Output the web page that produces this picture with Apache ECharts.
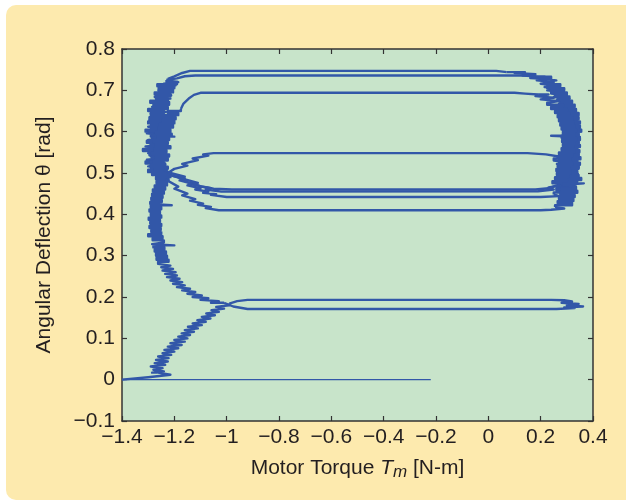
<!DOCTYPE html>
<html>
<head>
<meta charset="utf-8">
<script src="https://cdn.jsdelivr.net/npm/echarts@6/dist/echarts.min.js"></script>
<style>
html,body{margin:0;padding:0;background:#ffffff;width:626px;height:502px;overflow:hidden;}
#panel{position:absolute;left:6px;top:5px;width:640px;height:495px;background:#fdeaae;border-radius:10px;}
#chart{position:absolute;left:0;top:0;width:626px;height:502px;}
</style>
</head>
<body>
<div id="panel"></div>
<div id="chart"></div>
<script>
const xTicks = [-1.4,-1.2,-1.0,-0.8,-0.6,-0.4,-0.2,0,0.2,0.4];
const yTicks = [-0.1,0,0.1,0.2,0.3,0.4,0.5,0.6,0.7,0.8];
const xTitle = 'Motor Torque ';
const yTitle = 'Angular Deflection θ [rad]';

const baseline = [[-0.22,0.0],[-1.40,0.0]];
const startTail = [[-1.40,0.0],[-1.30,0.006],[-1.215,0.012],[-1.262,0.017]];
const lowerRise = [[-1.285,0.020],[-1.240,0.024],[-1.280,0.028],[-1.245,0.032],[-1.290,0.036],[-1.235,0.040],[-1.275,0.044],[-1.225,0.048],[-1.270,0.052],[-1.222,0.056],[-1.262,0.060],[-1.212,0.064],[-1.245,0.068],[-1.200,0.072],[-1.238,0.076],[-1.185,0.080],[-1.225,0.084],[-1.172,0.088],[-1.215,0.092],[-1.160,0.096],[-1.200,0.100],[-1.150,0.104],[-1.185,0.108],[-1.140,0.112],[-1.172,0.116],[-1.125,0.120],[-1.160,0.124],[-1.110,0.128],[-1.148,0.132],[-1.095,0.136],[-1.130,0.140],[-1.080,0.144],[-1.112,0.148],[-1.062,0.152],[-1.095,0.156],[-1.045,0.160],[-1.078,0.164],[-1.030,0.168],[-1.058,0.172],[-1.010,0.176],[-1.040,0.180],[-0.990,0.184]];
const lowLoop = [[-0.960,0.190],[-0.920,0.193],[0.240,0.193],[0.290,0.192],[0.320,0.189],[0.280,0.186],[0.345,0.183],[0.300,0.180],[0.362,0.177],[0.290,0.175],[0.330,0.173],[0.260,0.171],[-0.920,0.171],[-0.975,0.177],[-1.010,0.186]];
const upperRise = [[-1.060,0.190],[-1.030,0.193],[-1.100,0.197],[-1.070,0.200],[-1.130,0.204],[-1.095,0.208],[-1.150,0.212],[-1.120,0.216],[-1.170,0.220],[-1.140,0.224],[-1.190,0.228],[-1.160,0.232],[-1.205,0.236],[-1.170,0.240],[-1.215,0.244],[-1.180,0.248],[-1.228,0.252],[-1.190,0.256],[-1.235,0.260],[-1.195,0.264],[-1.245,0.268],[-1.205,0.272],[-1.250,0.276],[-1.215,0.280],[-1.262,0.285],[-1.222,0.290],[-1.268,0.295],[-1.228,0.300],[-1.270,0.305],[-1.232,0.310],[-1.275,0.315],[-1.238,0.320],[-1.280,0.325],[-1.200,0.328],[-1.285,0.332],[-1.240,0.337],[-1.283,0.342],[-1.245,0.347],[-1.300,0.352],[-1.250,0.357],[-1.288,0.362],[-1.252,0.367],[-1.295,0.372],[-1.250,0.377],[-1.292,0.382],[-1.255,0.387],[-1.298,0.392],[-1.250,0.397],[-1.290,0.402],[-1.255,0.407],[-1.295,0.412],[-1.250,0.417],[-1.290,0.422],[-1.210,0.425],[-1.292,0.430],[-1.248,0.435],[-1.288,0.440],[-1.245,0.445],[-1.285,0.450],[-1.240,0.455],[-1.282,0.460],[-1.235,0.465],[-1.275,0.470],[-1.228,0.475],[-1.268,0.480],[-1.222,0.485],[-1.255,0.490],[-1.215,0.495]];
const midLine = [[-1.190,0.490],[-1.170,0.486],[-1.150,0.478],[-1.120,0.474],[-1.100,0.467],[-1.075,0.465],[-1.050,0.462],[-0.980,0.460],[0.180,0.460],[0.230,0.463],[0.260,0.470]];
const midBand = [[0.300,0.474],[0.262,0.478],[0.310,0.482],[0.270,0.486],[0.320,0.490],[0.275,0.494],[0.315,0.498],[0.270,0.502],[0.325,0.506],[0.272,0.510],[0.318,0.514],[0.268,0.518],[0.310,0.522],[0.262,0.526],[0.300,0.530],[0.250,0.535],[0.270,0.540]];
const midTop = [[0.220,0.545],[0.150,0.548],[-1.050,0.548],[-1.090,0.545],[-1.070,0.542],[-1.130,0.535],[-1.110,0.531],[-1.170,0.522],[-1.150,0.518],[-1.200,0.510],[-1.225,0.500]];
const leftBand2 = [[-1.270,0.504],[-1.230,0.508],[-1.285,0.512],[-1.240,0.516],[-1.300,0.520],[-1.235,0.524],[-1.290,0.528],[-1.245,0.532],[-1.305,0.536],[-1.250,0.540],[-1.290,0.544],[-1.240,0.548],[-1.300,0.552],[-1.248,0.556],[-1.292,0.560],[-1.240,0.564],[-1.310,0.568],[-1.245,0.572],[-1.295,0.576],[-1.250,0.580],[-1.300,0.584],[-1.235,0.588],[-1.290,0.592],[-1.245,0.596],[-1.305,0.600],[-1.250,0.604],[-1.292,0.608],[-1.242,0.612],[-1.300,0.616],[-1.238,0.620],[-1.288,0.624],[-1.240,0.628],[-1.295,0.632],[-1.235,0.636],[-1.285,0.640],[-1.230,0.644],[-1.290,0.648],[-1.232,0.652],[-1.280,0.656],[-1.225,0.660],[-1.285,0.664],[-1.228,0.668],[-1.278,0.672],[-1.220,0.676],[-1.270,0.680],[-1.215,0.684],[-1.275,0.688],[-1.212,0.692],[-1.265,0.696],[-1.210,0.700],[-1.260,0.704],[-1.205,0.708],[-1.250,0.712],[-1.195,0.716],[-1.240,0.720],[-1.185,0.724],[-1.225,0.728]];
const topLine = [[-1.200,0.734],[-1.170,0.742],[-1.140,0.747],[0.030,0.747],[0.070,0.744]];
const rightBand1 = [[0.140,0.742],[0.100,0.739],[0.180,0.736],[0.130,0.733],[0.215,0.730],[0.160,0.727],[0.230,0.724],[0.185,0.720],[0.250,0.716],[0.200,0.712],[0.262,0.708],[0.215,0.704],[0.275,0.700],[0.225,0.696],[0.285,0.692],[0.240,0.688],[0.300,0.684],[0.250,0.680],[0.310,0.676],[0.262,0.672],[0.315,0.668],[0.270,0.664],[0.325,0.660],[0.275,0.655],[0.330,0.650],[0.280,0.645],[0.340,0.640],[0.285,0.635],[0.345,0.630],[0.288,0.625],[0.340,0.620],[0.290,0.615],[0.350,0.610],[0.292,0.605],[0.355,0.600],[0.290,0.595],[0.345,0.590],[0.240,0.587],[0.350,0.583],[0.292,0.578],[0.345,0.573],[0.290,0.568],[0.350,0.563],[0.288,0.558],[0.340,0.553],[0.285,0.548],[0.345,0.543],[0.290,0.538],[0.352,0.533],[0.285,0.528],[0.340,0.523],[0.282,0.518],[0.345,0.513],[0.280,0.508],[0.338,0.503],[0.278,0.498],[0.342,0.493],[0.275,0.488],[0.355,0.483],[0.272,0.478],[0.335,0.473],[0.268,0.468],[0.330,0.463],[0.260,0.458],[0.320,0.453],[0.250,0.448]];
const line442 = [[0.270,0.444],[0.200,0.442],[-1.000,0.442],[-1.060,0.447],[-1.040,0.449],[-1.090,0.452],[-1.070,0.455],[-1.120,0.460],[-1.100,0.463],[-1.150,0.470],[-1.130,0.474],[-1.180,0.482],[-1.160,0.486],[-1.210,0.494],[-1.240,0.502]];
const leftBand3 = [[-1.300,0.508],[-1.250,0.513],[-1.290,0.518],[-1.235,0.523],[-1.310,0.528],[-1.255,0.533],[-1.285,0.538],[-1.230,0.543],[-1.295,0.548],[-1.250,0.553],[-1.320,0.558],[-1.255,0.563],[-1.290,0.568],[-1.235,0.573],[-1.305,0.578],[-1.250,0.583],[-1.285,0.588],[-1.200,0.591],[-1.290,0.595],[-1.245,0.600],[-1.310,0.605],[-1.255,0.610],[-1.290,0.615],[-1.210,0.620],[-1.300,0.625],[-1.250,0.630],[-1.295,0.635],[-1.215,0.640],[-1.290,0.645],[-1.240,0.650],[-1.300,0.655],[-1.225,0.660],[-1.280,0.665],[-1.220,0.670],[-1.292,0.675],[-1.225,0.680],[-1.270,0.685],[-1.215,0.690],[-1.275,0.695],[-1.205,0.700],[-1.260,0.705],[-1.200,0.710],[-1.265,0.715],[-1.190,0.720],[-1.230,0.725]];
const line736 = [[-1.190,0.729],[-1.160,0.734],[-1.120,0.736],[0.150,0.736],[0.190,0.733]];
const rightBand2 = [[0.240,0.728],[0.200,0.724],[0.260,0.720],[0.215,0.715],[0.275,0.710],[0.225,0.705],[0.290,0.700],[0.240,0.695],[0.300,0.690],[0.255,0.685],[0.310,0.680],[0.265,0.675],[0.320,0.670],[0.275,0.665],[0.330,0.660],[0.280,0.655],[0.335,0.650],[0.285,0.645],[0.345,0.640],[0.290,0.635],[0.340,0.630],[0.295,0.625],[0.350,0.620],[0.300,0.615],[0.345,0.610],[0.298,0.605],[0.352,0.600],[0.295,0.595],[0.345,0.590],[0.300,0.585],[0.350,0.580],[0.295,0.575],[0.345,0.570],[0.290,0.565],[0.340,0.560],[0.292,0.555],[0.348,0.550],[0.290,0.545],[0.345,0.540],[0.288,0.535],[0.340,0.530],[0.285,0.525],[0.350,0.520],[0.290,0.515],[0.345,0.510],[0.285,0.505],[0.340,0.500],[0.280,0.495],[0.345,0.490],[0.285,0.485],[0.340,0.480],[0.280,0.475],[0.365,0.471],[0.285,0.467],[0.335,0.462],[0.280,0.457],[0.340,0.452],[0.275,0.447],[0.330,0.442],[0.270,0.437],[0.325,0.432],[0.265,0.427],[0.320,0.422],[0.255,0.418]];
const line410 = [[0.290,0.414],[0.240,0.411],[0.200,0.410],[-1.030,0.410],[-1.080,0.415],[-1.060,0.418],[-1.110,0.423],[-1.090,0.426],[-1.140,0.433],[-1.120,0.437],[-1.170,0.446],[-1.150,0.450],[-1.200,0.462],[-1.185,0.467],[-1.235,0.485]];
const leftBand4 = [[-1.270,0.490],[-1.220,0.495],[-1.285,0.500],[-1.230,0.505],[-1.275,0.510],[-1.225,0.515],[-1.290,0.520],[-1.240,0.525],[-1.280,0.530],[-1.225,0.535],[-1.270,0.540],[-1.220,0.545],[-1.285,0.550],[-1.230,0.555],[-1.275,0.560],[-1.215,0.565],[-1.270,0.570],[-1.225,0.575],[-1.280,0.580],[-1.220,0.585],[-1.265,0.590],[-1.210,0.595],[-1.270,0.600],[-1.215,0.605],[-1.260,0.610],[-1.205,0.615],[-1.255,0.620],[-1.200,0.625],[-1.245,0.630],[-1.195,0.635],[-1.235,0.640],[-1.185,0.645],[-1.225,0.650],[-1.175,0.655]];
const line694 = [[-1.165,0.668],[-1.145,0.680],[-1.125,0.689],[-1.100,0.694],[0.100,0.694],[0.140,0.692],[0.190,0.690]];
const rightBand3 = [[0.230,0.686],[0.180,0.682],[0.250,0.678],[0.200,0.674],[0.270,0.670],[0.225,0.665],[0.285,0.660],[0.240,0.655],[0.300,0.650],[0.255,0.645],[0.310,0.640],[0.265,0.635],[0.320,0.630],[0.270,0.625],[0.325,0.620],[0.275,0.615],[0.330,0.610],[0.280,0.605],[0.335,0.600],[0.285,0.595],[0.330,0.590],[0.280,0.585],[0.335,0.580],[0.282,0.575],[0.330,0.570],[0.285,0.565],[0.325,0.560],[0.280,0.555],[0.330,0.550],[0.270,0.545],[0.320,0.540],[0.265,0.535],[0.315,0.530],[0.270,0.525],[0.320,0.520],[0.265,0.515],[0.310,0.510],[0.260,0.505],[0.315,0.500],[0.262,0.495],[0.305,0.490],[0.255,0.485],[0.300,0.480],[0.245,0.475],[0.280,0.470]];
const line455 = [[0.230,0.465],[0.250,0.460],[0.190,0.456],[-1.020,0.455],[-1.080,0.460],[-1.060,0.463],[-1.130,0.472],[-1.110,0.476],[-1.180,0.488],[-1.160,0.491],[-1.215,0.500],[-1.240,0.508]];

// trace order; true = sensor chatter drawn as horizontal strokes
const segments = [
  [startTail,false],[lowerRise,true],[lowLoop,false],[upperRise,true],
  [midLine,false],[midBand,true],[midTop,false],[leftBand2,true],
  [topLine,false],[rightBand1,true],[line442,false],[leftBand3,true],
  [line736,false],[rightBand2,true],[line410,false],[leftBand4,true],
  [line694,false],[rightBand3,true],[line455,false]
];

const LINE = '#3257a8';
const TXT = '#231f20';
const FONT = '"Liberation Sans", Arial, Helvetica, sans-serif';
function fmt(v){
  const r = Math.round(v*10)/10;
  if (Math.abs(r) < 1e-9) return '0';
  return String(r).replace('-', '\u2212');
}
const xMin = xTicks[0], xMax = xTicks[xTicks.length-1];
const yMin = yTicks[0], yMax = yTicks[yTicks.length-1];
const xInt = Math.round((xTicks[1]-xTicks[0])*10)/10;
const yInt = Math.round((yTicks[1]-yTicks[0])*10)/10;

const axisCommon = {
  type: 'value',
  splitLine: {show: false},
  axisLine: {show: true, onZero: false, lineStyle: {color: '#333', width: 1.5}},
  axisTick: {show: true, inside: true, length: 5, lineStyle: {color: '#333', width: 1.2}},
};

const series = [{
  type: 'line', data: baseline, showSymbol: false, symbol: 'none',
  lineStyle: {color: LINE, width: 1.3}, silent: true
}];
segments.forEach(function (seg, i) {
  const prev = i > 0 ? segments[i-1][0] : null;
  const data = prev ? [prev[prev.length-1]].concat(seg[0]) : seg[0];
  series.push({
    type: 'line', data: data, showSymbol: false, symbol: 'none',
    step: seg[1] ? 'end' : false,
    lineStyle: {color: LINE, width: 2.4, join: 'round'}, silent: true
  });
});

const chart = echarts.init(document.getElementById('chart'), null, {renderer: 'canvas'});
chart.setOption({
  animation: false,
  backgroundColor: 'transparent',
  grid: {left: 122, top: 49, width: 471, height: 372, show: true, backgroundColor: '#c8e4ca', borderWidth: 0},
  xAxis: [
    Object.assign({}, axisCommon, {
      position: 'bottom', min: xMin, max: xMax, interval: xInt,
      axisLabel: {formatter: fmt, color: TXT, fontSize: 21, fontFamily: FONT, margin: 6},
      name: '{n|' + xTitle + '}{i|T}{s|m}{n| [N-m]}',
      nameLocation: 'middle', nameGap: 34,
      nameTextStyle: {
        rich: {
          n: {fontSize: 21, fontFamily: FONT, color: TXT, lineHeight: 26, verticalAlign: 'middle'},
          i: {fontSize: 21, fontFamily: FONT, color: TXT, fontStyle: 'italic', lineHeight: 26, verticalAlign: 'middle'},
          s: {fontSize: 17, fontFamily: FONT, color: TXT, fontStyle: 'italic', lineHeight: 15, verticalAlign: 'bottom'}
        }
      }
    }),
    Object.assign({}, axisCommon, {
      position: 'top', min: xMin, max: xMax, interval: xInt,
      axisLabel: {show: false}
    })
  ],
  yAxis: [
    Object.assign({}, axisCommon, {
      position: 'left', min: yMin, max: yMax, interval: yInt,
      axisLabel: {formatter: fmt, color: TXT, fontSize: 21, fontFamily: FONT, margin: 7},
      name: yTitle, nameLocation: 'middle', nameGap: 67,
      nameTextStyle: {fontSize: 21, fontFamily: FONT, color: TXT}
    }),
    Object.assign({}, axisCommon, {
      position: 'right', min: yMin, max: yMax, interval: yInt,
      axisLabel: {show: false}
    })
  ],
  series: series
});
</script>
</body>
</html>
